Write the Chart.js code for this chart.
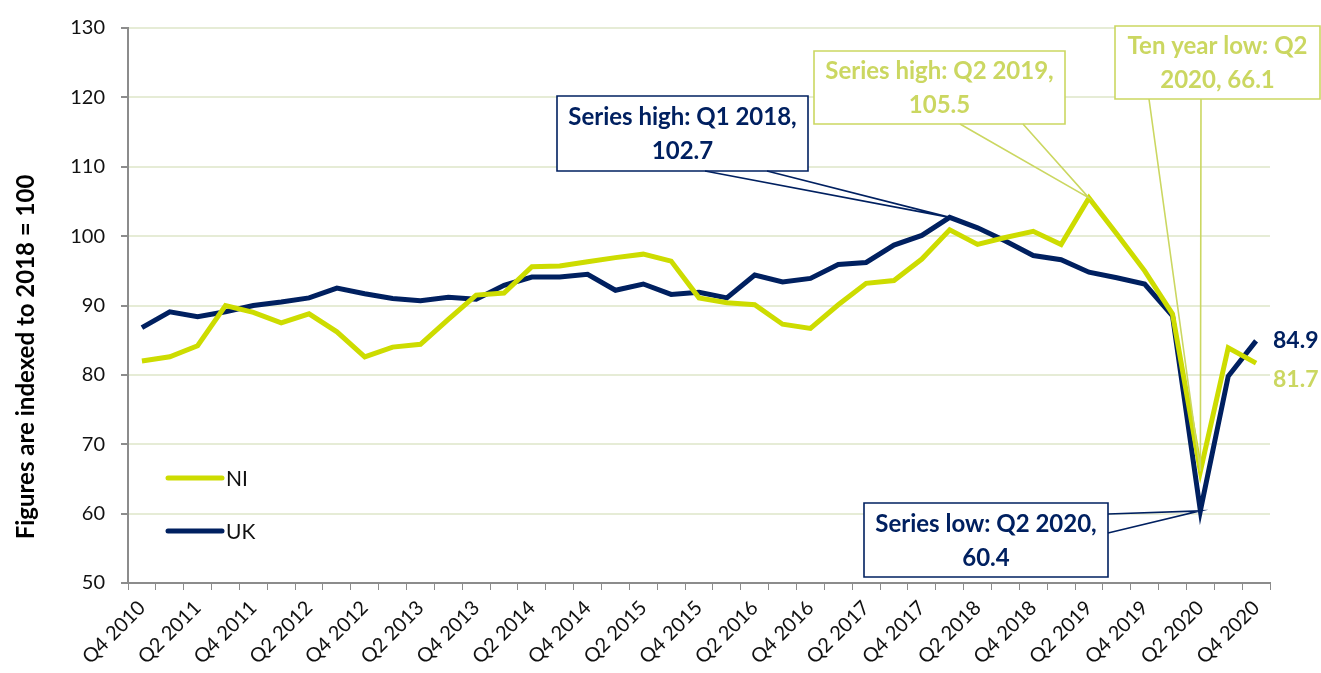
<!DOCTYPE html>
<html>
<head>
<meta charset="utf-8">
<script src="https://cdn.jsdelivr.net/npm/chart.js@4.4.0/dist/chart.umd.min.js"></script>
<style>
  html, body { margin: 0; padding: 0; background: #fff; }
</style>
</head>
<body>
<canvas id="chart" width="1321" height="673"></canvas>
<script>
const quarters = [
  'Q4 2010', 'Q1 2011', 'Q2 2011', 'Q3 2011', 'Q4 2011', 'Q1 2012', 'Q2 2012', 'Q3 2012', 'Q4 2012',
  'Q1 2013', 'Q2 2013', 'Q3 2013', 'Q4 2013', 'Q1 2014', 'Q2 2014', 'Q3 2014', 'Q4 2014',
  'Q1 2015', 'Q2 2015', 'Q3 2015', 'Q4 2015', 'Q1 2016', 'Q2 2016', 'Q3 2016', 'Q4 2016',
  'Q1 2017', 'Q2 2017', 'Q3 2017', 'Q4 2017', 'Q1 2018', 'Q2 2018', 'Q3 2018', 'Q4 2018',
  'Q1 2019', 'Q2 2019', 'Q3 2019', 'Q4 2019', 'Q1 2020', 'Q2 2020', 'Q3 2020', 'Q4 2020'
];
const niValues = [
  82.0, 82.6, 84.2, 90.0, 89.0, 87.5, 88.8, 86.2, 82.6,
  84.0, 84.4, 88.0, 91.5, 91.8, 95.6, 95.7, 96.3,
  96.9, 97.4, 96.4, 91.1, 90.4, 90.1, 87.3, 86.7,
  90.1, 93.2, 93.6, 96.7, 100.9, 98.8, 99.8, 100.7,
  98.8, 105.5, 100.3, 95.0, 88.8, 66.1, 83.9, 81.7
];
const ukValues = [
  86.8, 89.1, 88.4, 89.1, 90.0, 90.5, 91.1, 92.5, 91.7,
  91.0, 90.7, 91.2, 90.9, 92.9, 94.1, 94.1, 94.5,
  92.2, 93.1, 91.6, 91.9, 91.1, 94.4, 93.4, 93.9,
  95.9, 96.2, 98.7, 100.1, 102.7, 101.2, 99.3, 97.2,
  96.6, 94.8, 94.0, 93.1, 88.5, 60.4, 79.8, 84.9
];
const seriesNames = ['NI', 'UK'];
const yTitle = 'Figures are indexed to 2018 = 100';

const NI_COLOR = '#cddc00';
const NI_TEXT = '#cbd761';
const UK_COLOR = '#002060';
const FONT = 'Lato, "Open Sans", sans-serif';

// callout boxes (layout only) - tips are taken from the data via the scales
const callouts = [
  { lines: ['Series high: Q1 2018,', '102.7'], color: UK_COLOR, ds: 1, idx: 29,
    box: [557, 96, 251, 75], base: [[705, 171], [767, 171]] },
  { lines: ['Series high: Q2 2019,', '105.5'], color: NI_TEXT, ds: 0, idx: 34,
    box: [814, 51, 251, 73], base: [[960, 124], [1023, 124]] },
  { lines: ['Ten year low: Q2', '2020, 66.1'], color: NI_TEXT, ds: 0, idx: 38,
    box: [1115, 26, 205, 73], base: [[1149, 99], [1201, 99]] },
  { lines: ['Series low: Q2 2020,', '60.4'], color: UK_COLOR, ds: 1, idx: 38,
    box: [864, 503, 244, 74], base: [[1108, 514], [1108, 533]] }
];

const extrasPlugin = {
  id: 'extras',
  afterDatasetsDraw(chart) {
    const ctx = chart.ctx;
    const area = chart.chartArea;
    const ys = chart.scales.y;

    // y axis title
    ctx.save();
    ctx.translate(26, 357);
    ctx.rotate(-Math.PI / 2);
    ctx.font = 'bold 24px ' + FONT;
    ctx.fillStyle = '#000';
    ctx.textAlign = 'center';
    ctx.textBaseline = 'middle';
    ctx.fillText(yTitle, 0, 0);
    ctx.restore();

    // legend inside the plot
    const legendColors = [NI_COLOR, UK_COLOR];
    const legendY = [area.bottom - 105, area.bottom - 52];
    seriesNames.forEach((name, i) => {
      ctx.save();
      ctx.strokeStyle = legendColors[i];
      ctx.lineWidth = 5;
      ctx.lineCap = 'round';
      ctx.beginPath();
      ctx.moveTo(area.left + 40, legendY[i]);
      ctx.lineTo(area.left + 94, legendY[i]);
      ctx.stroke();
      ctx.font = '21px ' + FONT;
      ctx.fillStyle = '#111';
      ctx.textBaseline = 'middle';
      ctx.fillText(name, area.left + 98, legendY[i] + 1);
      ctx.restore();
    });

    // end labels
    const last = quarters.length - 1;
    ctx.save();
    ctx.font = 'bold 23px ' + FONT;
    ctx.textBaseline = 'middle';
    ctx.fillStyle = UK_COLOR;
    ctx.fillText(ukValues[last].toFixed(1), area.right + 3, ys.getPixelForValue(ukValues[last]));
    ctx.fillStyle = NI_TEXT;
    ctx.fillText(niValues[last].toFixed(1), area.right + 3, ys.getPixelForValue(niValues[last]) + 16);
    ctx.restore();

    // callouts
    callouts.forEach((c) => {
      const pt = chart.getDatasetMeta(c.ds).data[c.idx];
      const [bx, by, bw, bh] = c.box;
      ctx.save();
      ctx.fillStyle = '#fff';
      ctx.fillRect(bx, by, bw, bh);
      ctx.strokeStyle = c.color;
      ctx.lineWidth = 1.6;
      ctx.beginPath();
      ctx.rect(bx, by, bw, bh);
      ctx.stroke();
      ctx.beginPath();
      ctx.moveTo(c.base[0][0], c.base[0][1]);
      ctx.lineTo(pt.x, pt.y);
      ctx.lineTo(c.base[1][0], c.base[1][1]);
      ctx.stroke();
      ctx.font = 'bold 24px ' + FONT;
      ctx.fillStyle = c.color;
      ctx.textAlign = 'center';
      ctx.textBaseline = 'middle';
      const cx = bx + bw / 2;
      ctx.fillText(c.lines[0], cx, by + bh / 2 - 16);
      ctx.fillText(c.lines[1], cx, by + bh / 2 + 18);
      ctx.restore();
    });
  }
};

const ctx = document.getElementById('chart').getContext('2d');
new Chart(ctx, {
  type: 'line',
  data: {
    labels: quarters,
    datasets: [
      {
        label: seriesNames[0],
        data: niValues,
        borderColor: NI_COLOR,
        borderWidth: 5,
        pointRadius: 0,
        tension: 0,
      },
      {
        label: seriesNames[1],
        data: ukValues,
        borderColor: UK_COLOR,
        borderWidth: 5,
        pointRadius: 0,
        tension: 0,
      },
    ],
  },
  plugins: [extrasPlugin],
  options: {
    responsive: false,
    animation: false,
    devicePixelRatio: 1,
    layout: { padding: { top: 27, right: 51, left: 0, bottom: 0 } },
    plugins: {
      legend: { display: false },
      tooltip: { enabled: false },
    },
    scales: {
      x: {
        offset: true,
        grid: {
          offset: true,
          drawOnChartArea: false,
          drawTicks: true,
          tickLength: 7,
          tickColor: '#8c8c8c',
        },
        border: { color: '#8c8c8c', width: 2 },
        ticks: {
          autoSkip: false,
          maxRotation: 45,
          minRotation: 45,
          padding: 6,
          color: '#111',
          font: { family: FONT, size: 20 },
          callback: function (value, index) {
            return index % 2 === 0 ? quarters[index] : '';
          },
        },
        afterFit: (scale) => { scale.height = 90; },
      },
      y: {
        min: 50,
        max: 130,
        grid: {
          color: '#e6ecd6',
          lineWidth: 2,
          tickColor: '#8c8c8c',
          tickLength: 7,
        },
        border: { color: '#8c8c8c', width: 2 },
        ticks: {
          stepSize: 10,
          color: '#111',
          padding: 16,
          font: { family: FONT, size: 20 },
        },
        afterFit: (scale) => { scale.width = 128; },
      },
    },
  },
});
</script>
</body>
</html>
